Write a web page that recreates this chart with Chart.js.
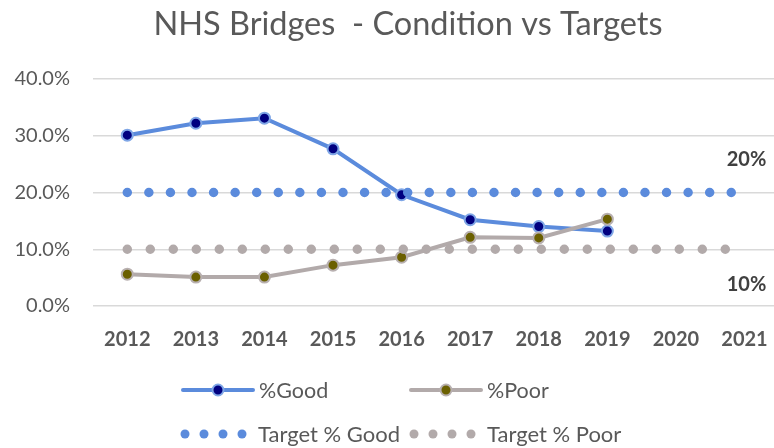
<!DOCTYPE html>
<html>
<head>
<meta charset="utf-8">
<script src="https://cdn.jsdelivr.net/npm/chart.js@4/dist/chart.umd.min.js"></script>
<style>
html,body{margin:0;padding:0;background:#fff;}
#wrap{width:774px;height:448px;position:relative;}
</style>
</head>
<body>
<div id="wrap"><canvas id="c" width="774" height="448"></canvas></div>
<script>
const years = [2012, 2013, 2014, 2015, 2016, 2017, 2018, 2019, 2020, 2021];
const goodPct = [30.1, 32.2, 33.1, 27.7, 19.6, 15.2, 14.0, 13.2];
const poorPct = [5.6, 5.1, 5.1, 7.2, 8.6, 12.1, 12.0, 15.3];
const targetGood = [20, 20, 20, 20, 20, 20, 20, 20, 20, 20];
const targetPoor = [10, 10, 10, 10, 10, 10, 10, 10, 10, 10];
const yTicks = [0, 10, 20, 30, 40];
const titleText = 'NHS Bridges  - Condition vs Targets';
const seriesNames = ['%Good', '%Poor', 'Target % Good', 'Target % Poor'];

const FONT = 'Lato, "Open Sans", sans-serif';
const GOOD = '#5B8BDC', POOR = '#B2AAAA';
const TGOOD = '#5B8BDC', TPOOR = '#B2AAAA';

function pts(vals){ return vals.map((v,i)=>({x: years[i], y: v})); }

const annotPlugin = {
  id: 'annot',
  afterDraw(chart){
    const ctx = chart.ctx;
    ctx.save();
    // title
    ctx.fillStyle = '#595959';
    ctx.font = '32.5px ' + FONT;
    ctx.textAlign = 'center';
    ctx.textBaseline = 'middle';
    ctx.fillText(titleText, 408, 25);
    // target labels
    ctx.font = 'bold 20px ' + FONT;
    ctx.fillStyle = '#404040';
    const mG = chart.getDatasetMeta(2), mP = chart.getDatasetMeta(3);
    const lg = mG.data[mG.data.length-1], lp = mP.data[mP.data.length-1];
    ctx.fillText(targetGood[targetGood.length-1] + '%', lg.x + 2, lg.y - 33);
    ctx.fillText(targetPoor[targetPoor.length-1] + '%', lp.x + 2, lp.y + 35);
    // legend
    ctx.fillStyle = '#595959';
    ctx.textAlign = 'left';
    function lineItem(x, y, color, fill, border, label){
      ctx.strokeStyle = color; ctx.lineWidth = 4; ctx.lineCap = 'round';
      ctx.beginPath(); ctx.moveTo(x, y); ctx.lineTo(x+70, y); ctx.stroke();
      ctx.beginPath(); ctx.arc(x+35, y, 5.5, 0, Math.PI*2);
      ctx.fillStyle = fill; ctx.fill();
      ctx.lineWidth = 2; ctx.strokeStyle = border; ctx.stroke();
      ctx.fillStyle = '#595959';
      ctx.font = '21.5px ' + FONT;
      ctx.fillText(label, x+76, y+1);
    }
    function dotItem(x, y, color, label){
      ctx.fillStyle = color;
      for(let i=0;i<4;i++){ ctx.beginPath(); ctx.arc(x + i*19, y, 4.5, 0, Math.PI*2); ctx.fill(); }
      ctx.fillStyle = '#595959';
      ctx.font = '22px ' + FONT;
      ctx.fillText(label, x+73, y+1);
    }
    lineItem(183, 390, GOOD, '#000080', '#7FA6E6', seriesNames[0]);
    lineItem(411, 390, POOR, '#6B6000', '#B8B0B0', seriesNames[1]);
    dotItem(185, 434, TGOOD, seriesNames[2]);
    dotItem(414, 434, TPOOR, seriesNames[3]);
    ctx.restore();
  }
};

new Chart(document.getElementById('c'), {
  type: 'line',
  data: {
    datasets: [
      { label: seriesNames[0], data: pts(goodPct), borderColor: GOOD, borderWidth: 4,
        pointRadius: 5.5, pointBackgroundColor: '#000080', pointBorderColor: '#7FA6E6', pointBorderWidth: 2,
        tension: 0, order: 4 },
      { label: seriesNames[1], data: pts(poorPct), borderColor: POOR, borderWidth: 4,
        pointRadius: 5.5, pointBackgroundColor: '#6B6000', pointBorderColor: '#B8B0B0', pointBorderWidth: 2,
        tension: 0, order: 3 },
      { label: seriesNames[2], data: pts(targetGood), borderColor: TGOOD, borderWidth: 9.5,
        borderDash: [0, 21.57], borderCapStyle: 'round', pointRadius: 0, order: 2 },
      { label: seriesNames[3], data: pts(targetPoor), borderColor: TPOOR, borderWidth: 9.5,
        borderDash: [0, 23.0], borderCapStyle: 'round', pointRadius: 0, order: 1 }
    ]
  },
  options: {
    responsive: false,
    animation: false,
    clip: false,
    layout: { autoPadding: false, padding: { top: 79, left: 0, right: 0, bottom: 102 } },
    plugins: { legend: { display: false }, title: { display: false }, tooltip: { enabled: false } },
    scales: {
      x: {
        type: 'linear', min: 2011.5, max: 2021.43,
        afterBuildTicks: s => { s.ticks = years.map(v => ({ value: v })); },
        afterFit: s => { s.height = 40; s.paddingLeft = 0; s.paddingRight = 0; },
        grid: { display: false, drawTicks: false },
        border: { display: false },
        ticks: { font: { family: FONT, size: 20, weight: 'bold' }, color: '#595959', padding: 22,
                 callback: v => String(v), maxRotation: 0, autoSkip: false }
      },
      y: {
        min: 0, max: 40,
        afterBuildTicks: s => { s.ticks = yTicks.map(v => ({ value: v })); },
        afterFit: s => { s.width = 93; },
        grid: { color: '#D9D9D9', lineWidth: 1.5, drawTicks: false },
        border: { display: false },
        ticks: { font: { family: FONT, size: 20 }, color: '#595959', padding: 23,
                 callback: v => v.toFixed(1) + '%' }
      }
    }
  },
  plugins: [annotPlugin]
});
</script>
</body>
</html>
